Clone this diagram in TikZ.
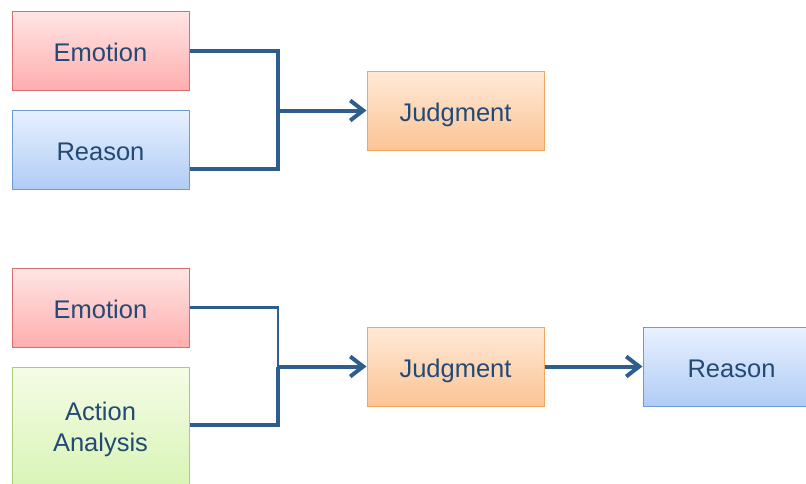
\documentclass[tikz,border=0pt]{standalone}
\usepackage{fontspec}
\setmainfont{Liberation Sans}
\usetikzlibrary{arrows.meta}
\definecolor{txt}{HTML}{234A75}
\definecolor{ln}{HTML}{2E5E8E}
\tikzset{
  box/.style={draw, line width=1pt, minimum width=177pt, minimum height=79pt, inner sep=0pt,
    text=txt, font=\fontsize{25.5}{30}\selectfont, align=center, text height=25.5pt, text depth=4.5pt},
  redbox/.style={box, top color=red!10, bottom color=red!32, draw={rgb,255:red,218;green,110;blue,110}},
  bluebox/.style={box, top color={rgb,255:red,232;green,241;blue,255}, bottom color={rgb,255:red,176;green,204;blue,245}, draw={rgb,255:red,108;green,155;blue,210}},
  orangebox/.style={box, top color={rgb,255:red,255;green,233;blue,214}, bottom color={rgb,255:red,251;green,196;blue,150}, draw={rgb,255:red,240;green,165;blue,96}},
  greenbox/.style={box, top color={rgb,255:red,245;green,252;blue,230}, bottom color={rgb,255:red,214;green,244;blue,178}, draw={rgb,255:red,168;green,204;blue,122}},
  conn/.style={draw=ln, line width=4pt},
  thinconn/.style={draw=ln, line width=2.4pt},
  arr/.style={conn, -{Straight Barb[length=13pt, width=20pt, line width=4pt]}},
}
\begin{document}
\begin{tikzpicture}[x=1pt, y=-1pt]
\useasboundingbox (0,0) rectangle (806,483);
\clip (0,0) rectangle (806,483);
\node[redbox] (e1) at (100.5,50.5) {Emotion};
\node[bluebox] (r1) at (100.5,149.5) {Reason};
\node[orangebox] (j1) at (455.5,110.5) {Judgment};
\node[redbox] (e2) at (100.5,307.5) {Emotion};
\node[greenbox, minimum height=130pt] (a2) at (100.5,432) {};
\node[text=txt, font=\fontsize{25.5}{31}\selectfont, align=center] (a2t) at (100.5,429) {Action\\Analysis};
\node[orangebox] (j2) at (455.5,366.5) {Judgment};
\node[bluebox] (r2) at (731.5,366.5) {Reason};
\coordinate (m1) at (278,110.5);
\coordinate (m2) at (278,366.5);
\draw[conn, line join=miter] (e1.east) -| (m1) |- ([yshift=-19pt]r1.east);
\draw[arr] (m1) -- (j1.west);
\draw[thinconn] (e2.east) -| (m2);
\draw[conn] (m2) |- (a2.east |- 0,425);
\draw[arr] (m2) -- (j2.west);
\draw[arr] (j2.east) -- (r2.west);
\end{tikzpicture}
\end{document}
